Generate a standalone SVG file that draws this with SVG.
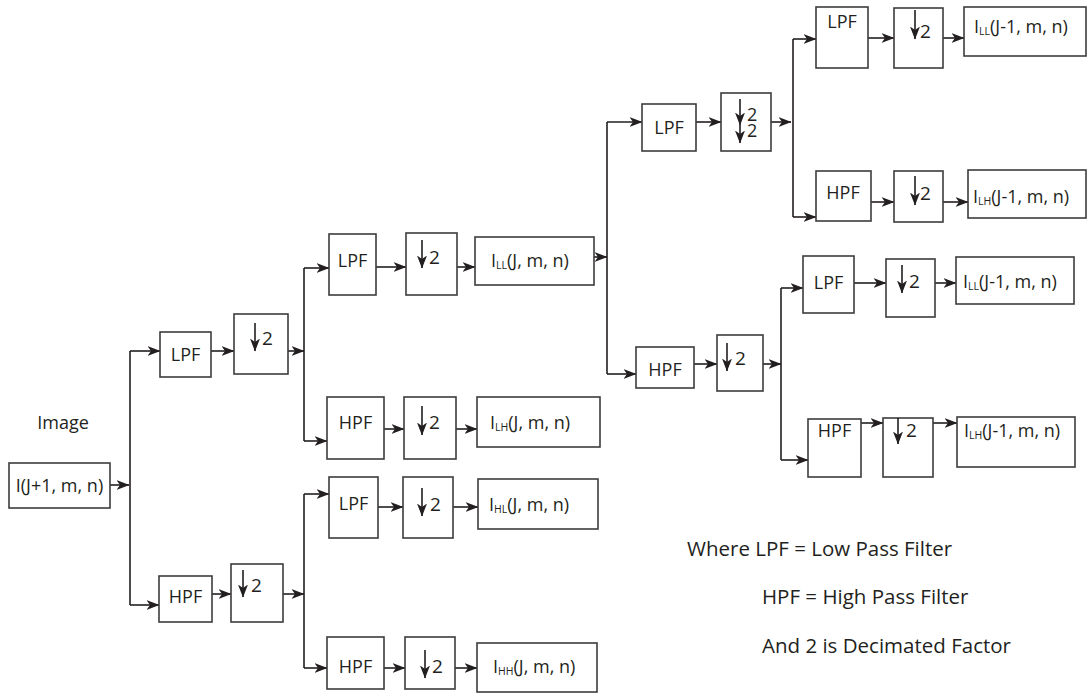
<svg xmlns="http://www.w3.org/2000/svg" width="1087" height="698" viewBox="0 0 1087 698">
  <defs>
    <marker id="ah" markerUnits="userSpaceOnUse" markerWidth="14" markerHeight="11" refX="12.5" refY="5" orient="auto">
      <path d="M0,0 L13,5 L0,10 L3.5,5 Z" fill="#231f20"/>
    </marker>
    <style>
      .box { fill: #fff; stroke: #3c3c3c; stroke-width: 1.6; }
      .wire { fill: none; stroke: #231f20; stroke-width: 1.6; }
      .arr { fill: none; stroke: #231f20; stroke-width: 1.6; marker-end: url(#ah); }
      .dn { fill: none; stroke: #231f20; stroke-width: 1.6; marker-end: url(#ah); marker-mid: url(#ah); }
      text { font-family: "Open Sans", "Liberation Sans", sans-serif; font-size: 18px; fill: #231f20; }
      .c { text-anchor: middle; }
      .sub { font-size: 10.5px; }
      .two { font-size: 19px; }
      .leg { font-size: 20.5px; }
    </style>
  </defs>

  <rect width="1087" height="698" fill="#fff"/>

  <!-- connectors -->
  <g id="connectors">
    <!-- input split -->
    <line class="arr" x1="110" y1="485" x2="129" y2="485"/>
    <line class="wire" x1="130" y1="351" x2="130" y2="605"/>
    <line class="arr" x1="130" y1="351" x2="160" y2="351"/>
    <line class="arr" x1="130" y1="605" x2="159" y2="605"/>

    <!-- level 1, low branch -->
    <line class="arr" x1="211" y1="351" x2="234" y2="351"/>
    <line class="arr" x1="288" y1="351" x2="304" y2="351"/>
    <line class="wire" x1="304" y1="268" x2="304" y2="441"/>
    <line class="arr" x1="304" y1="268" x2="329" y2="268"/>
    <line class="arr" x1="304" y1="441" x2="327" y2="441"/>

    <!-- level 1, high branch -->
    <line class="arr" x1="212" y1="594" x2="231" y2="594"/>
    <line class="arr" x1="283" y1="594" x2="304" y2="594"/>
    <line class="wire" x1="304" y1="494" x2="304" y2="668"/>
    <line class="arr" x1="304" y1="494" x2="329" y2="494"/>
    <line class="arr" x1="304" y1="668" x2="327" y2="668"/>

    <!-- level 2 chains -->
    <line class="arr" x1="376" y1="267" x2="406" y2="267"/>
    <line class="arr" x1="457" y1="267" x2="475" y2="267"/>
    <line class="arr" x1="384" y1="429" x2="404" y2="429"/>
    <line class="arr" x1="456" y1="429" x2="477" y2="429"/>
    <line class="arr" x1="378" y1="507" x2="403" y2="507"/>
    <line class="arr" x1="453" y1="507" x2="478" y2="507"/>
    <line class="arr" x1="384" y1="668" x2="405" y2="668"/>
    <line class="arr" x1="455" y1="668" x2="477" y2="668"/>

    <!-- LL split -->
    <line class="arr" x1="594" y1="257" x2="607" y2="257"/>
    <line class="wire" x1="607" y1="122" x2="607" y2="374"/>
    <line class="arr" x1="607" y1="122" x2="642" y2="122"/>
    <line class="arr" x1="607" y1="374" x2="636" y2="374"/>

    <!-- level 3 chains -->
    <line class="arr" x1="696" y1="122" x2="721" y2="122"/>
    <line class="arr" x1="771" y1="122" x2="791" y2="122"/>
    <line class="wire" x1="793" y1="39" x2="793" y2="217"/>
    <line class="arr" x1="793" y1="39" x2="816" y2="39"/>
    <line class="arr" x1="793" y1="217" x2="816" y2="217"/>

    <line class="arr" x1="694" y1="364" x2="717" y2="364"/>
    <line class="arr" x1="763" y1="364" x2="781" y2="364"/>
    <line class="wire" x1="781" y1="288" x2="781" y2="460"/>
    <line class="arr" x1="781" y1="288" x2="803" y2="288"/>
    <line class="arr" x1="781" y1="460" x2="808" y2="460"/>

    <!-- level 4 chains -->
    <line class="arr" x1="868" y1="38" x2="894" y2="38"/>
    <line class="arr" x1="943" y1="38" x2="964" y2="38"/>
    <line class="arr" x1="871" y1="202" x2="894" y2="202"/>
    <line class="arr" x1="943" y1="202" x2="968" y2="202"/>
    <line class="arr" x1="854" y1="283" x2="886" y2="283"/>
    <line class="arr" x1="935" y1="283" x2="956" y2="283"/>
    <line class="arr" x1="861" y1="423" x2="883" y2="423"/>
    <line class="arr" x1="933" y1="423" x2="957" y2="423"/>
  </g>

  <!-- input -->
  <text x="63" y="429" class="c">Image</text>
  <g id="input">
    <rect class="box" x="9" y="463" width="101" height="45"/>
    <text x="59.5" y="492" class="c">I(J+1, m, n)</text>
  </g>

  <!-- level 1 -->
  <g id="lpf1">
    <rect class="box" x="160" y="332" width="51" height="45"/>
    <text x="185.5" y="361" class="c">LPF</text>
  </g>
  <g id="dec1l">
    <rect class="box" x="234" y="314" width="54" height="60"/>
    <line class="dn" x1="255" y1="323" x2="255" y2="351"/>
    <text x="262" y="345" class="two">2</text>
  </g>
  <g id="hpf1">
    <rect class="box" x="159" y="576" width="53" height="46"/>
    <text x="185.5" y="603" class="c">HPF</text>
  </g>
  <g id="dec1h">
    <rect class="box" x="231" y="564" width="52" height="58"/>
    <line class="dn" x1="243" y1="570" x2="243" y2="597"/>
    <text x="251" y="592" class="two">2</text>
  </g>

  <!-- level 2 -->
  <g id="lpf2ll">
    <rect class="box" x="329" y="234" width="47" height="61"/>
    <text x="352.5" y="267" class="c">LPF</text>
  </g>
  <g id="dec2ll">
    <rect class="box" x="406" y="233" width="51" height="62"/>
    <line class="dn" x1="422" y1="240" x2="422" y2="268"/>
    <text x="429" y="264" class="two">2</text>
  </g>
  <g id="out-ll">
    <rect class="box" x="475" y="237" width="119" height="48"/>
    <text x="491" y="267">I<tspan class="sub" dy="2">LL</tspan><tspan dy="-2">(J, m, n)</tspan></text>
  </g>

  <g id="hpf2lh">
    <rect class="box" x="327" y="397" width="57" height="62"/>
    <text x="355.5" y="429" class="c">HPF</text>
  </g>
  <g id="dec2lh">
    <rect class="box" x="404" y="397" width="52" height="62"/>
    <line class="dn" x1="422" y1="406" x2="422" y2="435"/>
    <text x="429" y="429" class="two">2</text>
  </g>
  <g id="out-lh">
    <rect class="box" x="477" y="397" width="123" height="50"/>
    <text x="490" y="429">I<tspan class="sub" dy="2">LH</tspan><tspan dy="-2">(J, m, n)</tspan></text>
  </g>

  <g id="lpf2hl">
    <rect class="box" x="329" y="477" width="49" height="61"/>
    <text x="353.5" y="510" class="c">LPF</text>
  </g>
  <g id="dec2hl">
    <rect class="box" x="403" y="477" width="50" height="61"/>
    <line class="dn" x1="422" y1="488" x2="422" y2="516"/>
    <text x="430" y="511" class="two">2</text>
  </g>
  <g id="out-hl">
    <rect class="box" x="478" y="479" width="120" height="50"/>
    <text x="489" y="511">I<tspan class="sub" dy="2">HL</tspan><tspan dy="-2">(J, m, n)</tspan></text>
  </g>

  <g id="hpf2hh">
    <rect class="box" x="327" y="637" width="57" height="52"/>
    <text x="355.5" y="673" class="c">HPF</text>
  </g>
  <g id="dec2hh">
    <rect class="box" x="405" y="637" width="50" height="52"/>
    <line class="dn" x1="425" y1="650" x2="425" y2="678"/>
    <text x="432" y="673" class="two">2</text>
  </g>
  <g id="out-hh">
    <rect class="box" x="477" y="643" width="120" height="49"/>
    <text x="493" y="673">I<tspan class="sub" dy="2">HH</tspan><tspan dy="-2">(J, m, n)</tspan></text>
  </g>

  <!-- level 3 -->
  <g id="lpf3">
    <rect class="box" x="642" y="104" width="54" height="47"/>
    <text x="669" y="134" class="c">LPF</text>
  </g>
  <g id="dec3l">
    <rect class="box" x="721" y="93" width="50" height="58"/>
    <polyline class="dn" points="740,99 740,125 740,143"/>
    <text x="747" y="121" font-size="17">2<tspan x="747" dy="16">2</tspan></text>
  </g>
  <g id="hpf3">
    <rect class="box" x="636" y="347" width="58" height="41"/>
    <text x="665" y="376" class="c">HPF</text>
  </g>
  <g id="dec3h">
    <rect class="box" x="717" y="335" width="46" height="56"/>
    <line class="dn" x1="727" y1="343" x2="727" y2="371"/>
    <text x="735" y="365" class="two">2</text>
  </g>

  <!-- level 4 -->
  <g id="lpf4a">
    <rect class="box" x="816" y="7" width="52" height="61"/>
    <text x="842" y="28" class="c">LPF</text>
  </g>
  <g id="dec4a">
    <rect class="box" x="894" y="8" width="49" height="60"/>
    <line class="dn" x1="915" y1="10" x2="915" y2="39"/>
    <text x="920" y="38" class="two">2</text>
  </g>
  <g id="out4a">
    <rect class="box" x="964" y="7" width="122" height="49"/>
    <text x="974" y="33">I<tspan class="sub" dy="2">LL</tspan><tspan dy="-2">(J-1, m, n)</tspan></text>
  </g>

  <g id="hpf4b">
    <rect class="box" x="816" y="171" width="55" height="50"/>
    <text x="843" y="199" class="c">HPF</text>
  </g>
  <g id="dec4b">
    <rect class="box" x="894" y="171" width="49" height="51"/>
    <line class="dn" x1="915" y1="176" x2="915" y2="205"/>
    <text x="920" y="200" class="two">2</text>
  </g>
  <g id="out4b">
    <rect class="box" x="968" y="170" width="118" height="48"/>
    <text x="973" y="203">I<tspan class="sub" dy="2">LH</tspan><tspan dy="-2">(J-1, m, n)</tspan></text>
  </g>

  <g id="lpf4c">
    <rect class="box" x="803" y="256" width="51" height="57"/>
    <text x="828.5" y="289" class="c">LPF</text>
  </g>
  <g id="dec4c">
    <rect class="box" x="886" y="259" width="49" height="58"/>
    <line class="dn" x1="902" y1="265" x2="902" y2="293"/>
    <text x="909" y="288" class="two">2</text>
  </g>
  <g id="out4c">
    <rect class="box" x="956" y="257" width="118" height="47"/>
    <text x="963" y="288">I<tspan class="sub" dy="2">LL</tspan><tspan dy="-2">(J-1, m, n)</tspan></text>
  </g>

  <g id="hpf4d">
    <rect class="box" x="808" y="419" width="53" height="58"/>
    <text x="834.5" y="437" class="c">HPF</text>
  </g>
  <g id="dec4d">
    <rect class="box" x="883" y="418" width="50" height="59"/>
    <line class="dn" x1="898" y1="418" x2="898" y2="444"/>
    <text x="906" y="437" class="two">2</text>
  </g>
  <g id="out4d">
    <rect class="box" x="957" y="417" width="118" height="50"/>
    <text x="964" y="437">I<tspan class="sub" dy="2">LH</tspan><tspan dy="-2">(J-1, m, n)</tspan></text>
  </g>

  <!-- legend -->
  <g id="legend">
    <text x="687" y="556" class="leg">Where LPF = Low Pass Filter</text>
    <text x="762" y="604" class="leg">HPF = High Pass Filter</text>
    <text x="762" y="653" class="leg">And 2 is Decimated Factor</text>
  </g>
</svg>
